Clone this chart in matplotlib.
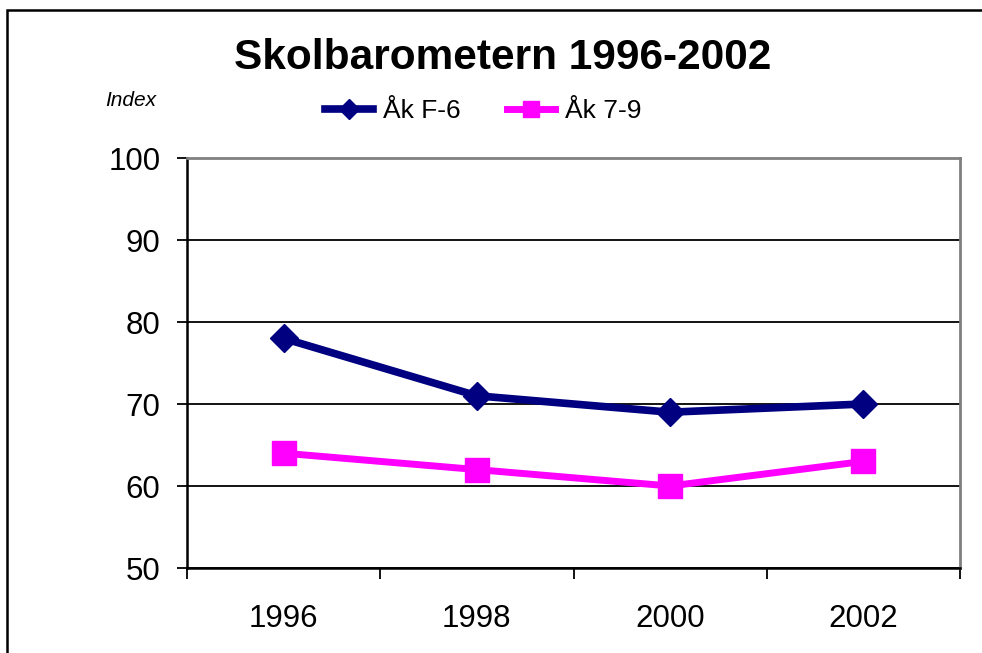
import matplotlib
matplotlib.use('Agg')
import matplotlib.pyplot as plt
from matplotlib.patches import Rectangle

# data
years = ['1996', '1998', '2000', '2002']
ak_f6 = [78, 71, 69, 70]
ak_79 = [64, 62, 60, 63]
y_ticks = [50, 60, 70, 80, 90, 100]

plt.rcParams['font.family'] = ['Liberation Sans', 'DejaVu Sans']

W, H = 982, 653
fig = plt.figure(figsize=(W / 100, H / 100), dpi=100)
fig.patch.set_facecolor('white')

# outer chart frame (runs off the right and bottom edge)
fig.patches.append(Rectangle((7 / W, -0.1), 1.2, 1.1 - 10 / H, transform=fig.transFigure,
                             fill=False, ec='black', lw=1.8))

ax = fig.add_axes([187 / W, 1 - 568 / H, (960 - 187) / W, (568 - 158) / H])
x = list(range(len(years)))
ax.plot(x, ak_f6, color='#000080', lw=5.5, marker='D', ms=14, label='Åk F-6')
ax.plot(x, ak_79, color='#FF00FF', lw=5, marker='s', ms=17, label='Åk 7-9')

ax.set_xlim(-0.5, len(years) - 0.5)
ax.set_ylim(50, 100)
ax.set_yticks(y_ticks)
ax.grid(axis='y', color='black', lw=1.3)

ax.set_xticks(x, years)
ax.set_xticks([i - 0.5 for i in range(len(years) + 1)], minor=True)
ax.tick_params(axis='x', which='major', length=0, pad=26, labelsize=22.5)
ax.tick_params(axis='x', which='minor', length=8, width=1.3, direction='out')
ax.tick_params(axis='y', length=7, width=1.3, direction='out', pad=12, labelsize=22.5)

for s in ['left', 'bottom']:
    ax.spines[s].set_color('black')
    ax.spines[s].set_linewidth(1.8)
for s in ['top', 'right']:
    ax.spines[s].set_color('#808080')
    ax.spines[s].set_linewidth(2)

fig.text(503 / W, 1 - 58 / H, 'Skolbarometern 1996-2002', ha='center', va='center',
         fontsize=30.5, fontweight='bold')
fig.text(105 / W, 1 - 101 / H, 'Index', ha='left', va='center', fontsize=15, style='italic')

fig.legend(loc='center', bbox_to_anchor=(483 / W, 1 - 111 / H), ncol=2, frameon=False,
           fontsize=19, handlelength=1.83, handletextpad=0.38, columnspacing=1.75,
           markerscale=0.7, borderpad=0)

fig.savefig('out.png', dpi=100)
